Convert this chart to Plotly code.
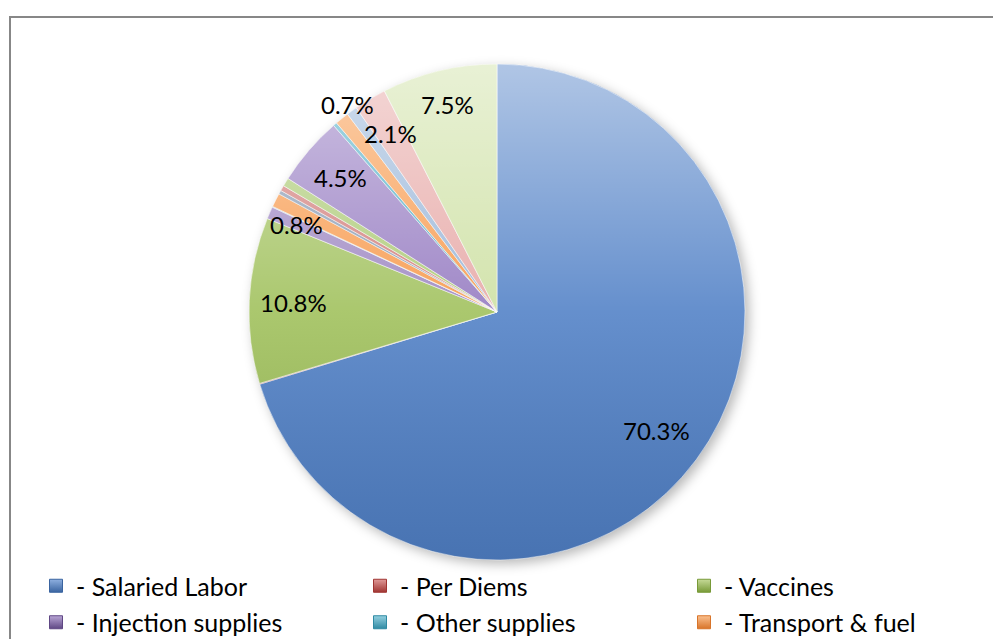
import math, base64
import plotly.graph_objects as go

# ---- data (clockwise from 12 o'clock) ----
categories = ["Salaried Labor", "Per Diems", "Vaccines", "Injection supplies", "Other supplies",
              "Transport & fuel", "Item 7", "Item 8", "Item 9", "Item 10", "Item 11",
              "Item 12", "Item 13", "Item 14", "Item 15"]
shares = [70.3, 0.05, 10.8, 0.8, 0.05, 0.9, 0.25, 0.35, 0.55, 4.5, 0.25, 0.9, 0.7, 2.1, 7.5]
label_text = ["70.3%", "", "10.8%", "0.8%", "", "", "", "", "", "4.5%", "", "", "0.7%", "2.1%", "7.5%"]
legend_names = ["- Salaried Labor", "- Per Diems", "- Vaccines",
                "- Injection supplies", "- Other supplies", "- Transport & fuel"]

# ---- style ----
slice_colors = ["#5080c6", "#c0504d", "#9fc05a", "#9a83c0", "#4bacc6", "#f79646",
                "#8497b0", "#d07875", "#a9c870", "#9378c0", "#4bacc6", "#f79646",
                "#95b3d7", "#e6a6a4", "#cde0a2"]
legend_top = ["#8fb0e0", "#e09a98", "#c6da98", "#b9a6d6", "#94d0e0", "#fbc08f"]
legend_bot = ["#3a64a0", "#a03532", "#789a38", "#5f4784", "#2f8aa3", "#d8742a"]
legend_column = [0, 1, 2, 0, 1, 2]
label_radius = [0.80, 0, 0.82, 0.88, 0, 0, 0, 0, 0, 0.83, 0, 0, 1.03, 0.84, 0.86]

W, H = 993, 639
CX, CY, R = 497, 312, 248
FONT = "Lato, Carlito, 'Liberation Sans', sans-serif"
LEG_X0, LEG_DX, LEG_TOP = 36, 324, 563

fig = go.Figure()

fig.add_trace(go.Pie(
    labels=categories, values=shares, sort=False, direction="clockwise", rotation=0,
    marker=dict(colors=slice_colors, line=dict(color="rgba(255,255,255,0.55)", width=1)),
    textinfo="none", hoverinfo="label+percent", showlegend=False,
    domain=dict(x=[(CX - R) / W, (CX + R) / W], y=[1 - (CY + R) / H, 1 - (CY - R) / H]),
))

# legend entries (three columns, each its own vertical legend)
legend_refs = ["legend", "legend2", "legend3"]
for i, (name, ct, cb, col) in enumerate(zip(legend_names, legend_top, legend_bot, legend_column)):
    fig.add_trace(go.Scatter(
        x=[None], y=[None], mode="markers", name=name,
        legend=legend_refs[col], legendgroup="g%d" % i,
        marker=dict(symbol="square", size=13, color=ct,
                    gradient=dict(type="vertical", color=cb),
                    line=dict(color=cb, width=1)),
    ))

# data labels, placed from the cumulative shares
total = sum(shares)
cum = 0.0
annotations = []
for v, t, f in zip(shares, label_text, label_radius):
    mid = (cum + v / 2) / total * 2 * math.pi
    cum += v
    if not t:
        continue
    px = CX + f * R * math.sin(mid)
    py = CY - f * R * math.cos(mid)
    annotations.append(dict(x=px / W, y=1 - py / H, xref="paper", yref="paper",
                            xanchor="center", yanchor="middle",
                            text=t, showarrow=False,
                            font=dict(family=FONT, size=24, color="#000000")))

# gradient shading overlay (bevel look) and soft shadow
svg_shade = ('<svg xmlns="http://www.w3.org/2000/svg" viewBox="0 0 100 100">'
             '<defs><linearGradient id="g" x1="0" y1="0" x2="0" y2="1">'
             '<stop offset="0" stop-color="#ffffff" stop-opacity="0.55"/>'
             '<stop offset="0.5" stop-color="#ffffff" stop-opacity="0.12"/>'
             '<stop offset="1" stop-color="#000000" stop-opacity="0.10"/>'
             '</linearGradient></defs>'
             '<circle cx="50" cy="50" r="50" fill="url(#g)"/></svg>')
svg_shadow = ('<svg xmlns="http://www.w3.org/2000/svg" viewBox="0 0 110 110">'
              '<defs><filter id="b"><feGaussianBlur stdDeviation="1.2"/></filter></defs>'
              '<circle cx="55.8" cy="55.8" r="50" fill="#000000" fill-opacity="0.28" filter="url(#b)"/></svg>')
uri = lambda s: "data:image/svg+xml;base64," + base64.b64encode(s.encode()).decode()

images = [
    dict(source=uri(svg_shadow), xref="paper", yref="paper",
         x=(CX - R * 1.1) / W, y=1 - (CY - R * 1.1) / H,
         sizex=2.2 * R / W, sizey=2.2 * R / H, xanchor="left", yanchor="top",
         sizing="stretch", layer="below"),
    dict(source=uri(svg_shade), xref="paper", yref="paper",
         x=(CX - R) / W, y=1 - (CY - R) / H,
         sizex=2 * R / W, sizey=2 * R / H, xanchor="left", yanchor="top",
         sizing="stretch", layer="above"),
]

legend_style = dict(orientation="v", xanchor="left", yanchor="top", y=1 - LEG_TOP / H,
                    itemclick=False, itemdoubleclick=False, tracegroupgap=1,
                    font=dict(family=FONT, size=25, color="#000000"),
                    bgcolor="rgba(0,0,0,0)", borderwidth=0)

fig.update_layout(
    width=W, height=H, margin=dict(l=0, r=0, t=0, b=0, autoexpand=False),
    paper_bgcolor="#ffffff", plot_bgcolor="rgba(0,0,0,0)",
    xaxis=dict(visible=False), yaxis=dict(visible=False),
    annotations=annotations, images=images,
    shapes=[dict(type="rect", xref="paper", yref="paper",
                 x0=10 / W, x1=1.05, y0=-0.05, y1=1 - 17 / H,
                 line=dict(color="#878787", width=2), layer="below")],
    showlegend=True,
    legend=dict(x=LEG_X0 / W, **legend_style),
    legend2=dict(x=(LEG_X0 + LEG_DX) / W, **legend_style),
    legend3=dict(x=(LEG_X0 + 2 * LEG_DX) / W, **legend_style),
    hovermode="closest",
)

fig.write_html("out.html", config={"displayModeBar": False},
               post_script="document.body.style.margin='0';")
